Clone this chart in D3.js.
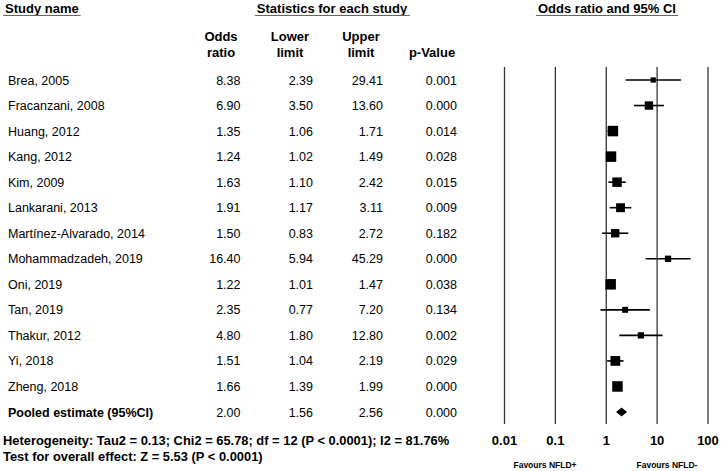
<!DOCTYPE html>
<html>
<head>
<meta charset="utf-8">
<script src="https://cdn.jsdelivr.net/npm/d3@7"></script>
<style>
  body { margin: 0; background: #fff; }
  text { font-family: "Liberation Sans", Arial, sans-serif; fill: #000; }
  .hdr { font-weight: bold; font-size: 13px; }
  .cell { font-size: 12.5px; }
</style>
</head>
<body>
<svg id="chart"></svg>
<script>
var studies = ["Brea, 2005", "Fracanzani, 2008", "Huang, 2012", "Kang, 2012", "Kim, 2009",
    "Lankarani, 2013", "Martínez-Alvarado, 2014", "Mohammadzadeh, 2019", "Oni, 2019",
    "Tan, 2019", "Thakur, 2012", "Yi, 2018", "Zheng, 2018"];
var oddsRatio = [8.38, 6.90, 1.35, 1.24, 1.63, 1.91, 1.50, 16.40, 1.22, 2.35, 4.80, 1.51, 1.66];
var lowerLimit = [2.39, 3.50, 1.06, 1.02, 1.10, 1.17, 0.83, 5.94, 1.01, 0.77, 1.80, 1.04, 1.39];
var upperLimit = [29.41, 13.60, 1.71, 1.49, 2.42, 3.11, 2.72, 45.29, 1.47, 7.20, 12.80, 2.19, 1.99];
var pValue = ["0.001", "0.000", "0.014", "0.028", "0.015", "0.009", "0.182", "0.000", "0.038",
    "0.134", "0.002", "0.029", "0.000"];
// relative weight
var weight = [2.5, 6.4, 10, 10, 8.1, 7.2, 6.4, 3.6, 10, 3.2, 3.6, 8.6, 10];

var pooledLabel = "Pooled estimate (95%CI)";
var pooled = { or: 2.00, lo: 1.56, hi: 2.56, p: "0.000" };

var axisTicks = [0.01, 0.1, 1, 10, 100];
var footLines = ["Heterogeneity: Tau2 = 0.13; Chi2 = 65.78; df = 12 (P < 0.0001); I2 = 81.76%",
    "Test for overall effect: Z = 5.53 (P < 0.0001)"];

var width = 722, height = 471;
var svg = d3.select("#chart").attr("width", width).attr("height", height);

var rows = studies.concat([pooledLabel]);
var y = d3.scalePoint().domain(rows).range([80, 412]);
var x = d3.scaleLog().domain([0.01, 100]).range([504.5, 708]);
var side = d3.scaleSqrt().domain([0, 10]).range([0, 10.5]);

// column headers
function header(txt, cx, yy, underline) {
    var t = svg.append("text").attr("class", "hdr")
        .attr("x", cx).attr("y", yy)
        .attr("text-anchor", underline === "start" ? "start" : "middle")
        .text(txt);
    var bb = t.node().getBBox();
    svg.append("line")
        .attr("x1", bb.x - 2).attr("x2", bb.x + bb.width + 2)
        .attr("y1", 15.5).attr("y2", 15.5)
        .attr("stroke", "#666").attr("stroke-width", 1);
}
header("Study name", 5, 12.5, "start");
header("Statistics for each study", 332, 12.5);
header("Odds ratio and 95% CI", 607, 12.5);

var colHeads = [
    { l1: "Odds", l2: "ratio", x: 221 },
    { l1: "Lower", l2: "limit", x: 290 },
    { l1: "Upper", l2: "limit", x: 361 },
    { l1: "", l2: "p-Value", x: 432 }
];
colHeads.forEach(function(c) {
    svg.append("text").attr("class", "hdr").attr("x", c.x).attr("y", 41)
        .attr("text-anchor", "middle").text(c.l1);
    svg.append("text").attr("class", "hdr").attr("x", c.x).attr("y", 57)
        .attr("text-anchor", "middle").text(c.l2);
});

var colRight = [240.5, 313, 383, 457];
var table = studies.map(function(s, i) {
    return { name: s, vals: [oddsRatio[i].toFixed(2), lowerLimit[i].toFixed(2),
        upperLimit[i].toFixed(2), pValue[i]], bold: false };
});
table.push({ name: pooledLabel, vals: [pooled.or.toFixed(2), pooled.lo.toFixed(2),
    pooled.hi.toFixed(2), pooled.p], bold: true });

var rowG = svg.selectAll(".row").data(table).enter().append("g")
    .attr("class", "row")
    .attr("transform", function(d) { return "translate(0," + (y(d.name) + 4.5) + ")"; });
rowG.append("text").attr("class", "cell").attr("x", 8)
    .style("font-weight", function(d) { return d.bold ? "bold" : "normal"; })
    .text(function(d) { return d.name; });
rowG.selectAll(".v").data(function(d) { return d.vals; }).enter().append("text")
    .attr("class", "cell v").attr("text-anchor", "end")
    .attr("x", function(d, i) { return colRight[i]; })
    .text(function(d) { return d; });

// vertical reference lines
svg.selectAll(".vline").data(axisTicks).enter().append("line")
    .attr("x1", function(d) { return x(d); }).attr("x2", function(d) { return x(d); })
    .attr("y1", 67).attr("y2", 424)
    .attr("stroke", "#333").attr("stroke-width", 1.3);

// CI lines and squares
var pts = studies.map(function(s, i) {
    return { name: s, or: oddsRatio[i], lo: lowerLimit[i], hi: upperLimit[i], w: weight[i] };
});
svg.selectAll(".ci").data(pts).enter().append("line")
    .attr("x1", function(d) { return x(d.lo); }).attr("x2", function(d) { return x(d.hi); })
    .attr("y1", function(d) { return y(d.name); }).attr("y2", function(d) { return y(d.name); })
    .attr("stroke", "#000").attr("stroke-width", 1.6);
svg.selectAll(".sq").data(pts).enter().append("rect")
    .attr("x", function(d) { return x(d.or) - side(d.w) / 2; })
    .attr("y", function(d) { return y(d.name) - side(d.w) / 2; })
    .attr("width", function(d) { return side(d.w); })
    .attr("height", function(d) { return side(d.w); })
    .attr("fill", "#000");

// pooled diamond
var py = y(pooledLabel);
svg.append("path")
    .attr("d", "M" + x(pooled.lo) + "," + py + "L" + x(pooled.or) + "," + (py - 4.5) +
        "L" + x(pooled.hi) + "," + py + "L" + x(pooled.or) + "," + (py + 4.5) + "Z")
    .attr("fill", "#000");

// axis labels
svg.selectAll(".tick").data(axisTicks).enter().append("text")
    .attr("class", "hdr").attr("text-anchor", "middle")
    .attr("x", function(d) { return x(d); }).attr("y", 445)
    .style("font-size", "13px")
    .text(function(d) { return d3.format("~g")(d); });

svg.append("text").attr("class", "hdr").attr("x", 545).attr("y", 468)
    .attr("text-anchor", "middle").style("font-size", "8.5px").text("Favours NFLD+");
svg.append("text").attr("class", "hdr").attr("x", 667).attr("y", 468)
    .attr("text-anchor", "middle").style("font-size", "8.5px").text("Favours NFLD-");

svg.selectAll(".foot").data(footLines).enter().append("text")
    .attr("class", "hdr").attr("x", 3)
    .attr("y", function(d, i) { return 444.5 + i * 16; })
    .style("font-size", "12.9px")
    .text(function(d) { return d; });
</script>
</body>
</html>
